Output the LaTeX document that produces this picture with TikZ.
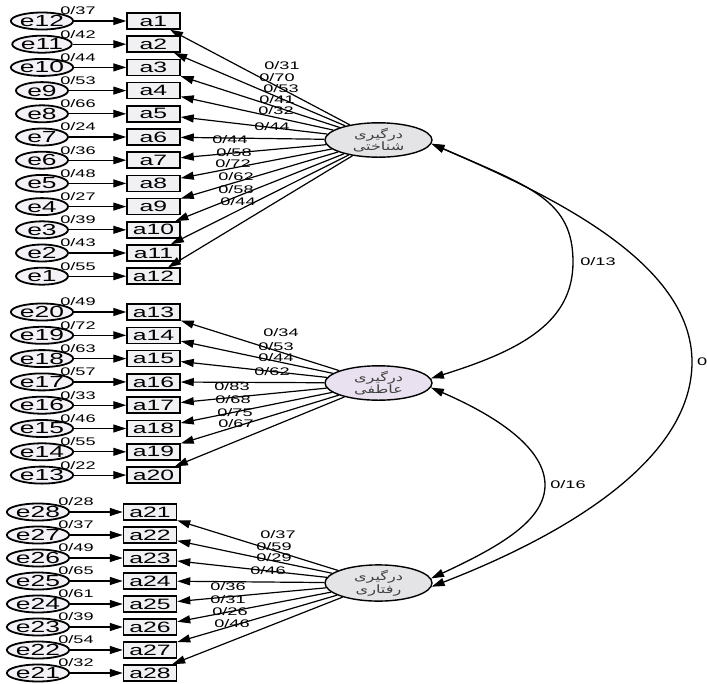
\documentclass[tikz,border=0pt]{standalone}
\usepackage{fontspec}
\setmainfont{Liberation Sans}
\newfontfamily\amos[FakeStretch=1.65]{Liberation Sans}
\newfontfamily\farsi[Script=Arabic,FakeStretch=1.4]{DejaVu Sans}
\TeXXeTstate=1
\usetikzlibrary{arrows.meta,shapes.geometric}

\definecolor{boxfill}{HTML}{F1F1F4}
\definecolor{errfill}{HTML}{F4F2F7}
\definecolor{latgray}{HTML}{E4E4E6}
\definecolor{latlav}{HTML}{E9E1F0}

\tikzset{
  obs/.style={draw, line width=1.5pt, fill=boxfill, minimum width=53pt,
    minimum height=16pt, inner sep=0pt, font=\amos\fontsize{15}{15}\selectfont},
  err/.style={draw, ellipse, line width=1.8pt, fill=errfill, minimum width=52pt,
    minimum height=17pt, inner sep=0pt, font=\amos\fontsize{16}{16}\selectfont},
  lat/.style={draw, ellipse, line width=1.4pt, minimum width=107pt,
    minimum height=30pt, inner sep=0pt, align=center, text=black!75,
    font=\farsi\fontsize{11.5}{12.5}\selectfont},
  lbl/.style={font=\amos\fontsize{11}{11}\selectfont, inner sep=0pt},
  link/.style={line width=1.2pt, -{Triangle[length=13pt,width=8pt]}},
  cov/.style={line width=1.3pt, {Triangle[length=13pt,width=8pt]}-{Triangle[length=13pt,width=8pt]}}
}

\begin{document}
\begin{tikzpicture}[x=1pt,y=-1pt]
\useasboundingbox[fill=white] (0,0) rectangle (707,683);

% latent factors
\node[lat, fill=latgray] (l1) at (378.5,140) {\beginR درگیری\endR\\\beginR شناختی\endR};
\node[lat, fill=latlav]  (l2) at (378.5,383) {\beginR درگیری\endR\\\beginR عاطفی\endR};
\node[lat, fill=latgray] (l3) at (378.5,583) {\beginR درگیری\endR\\\beginR رفتاری\endR};

% first factor: items a1--a12 with errors e12--e1
\foreach \i/\v in {1/37,2/42,3/44,4/53,5/66,6/24,7/36,8/48,9/27,10/39,11/43,12/55}{
  \pgfmathsetmacro\yy{21+23.2*(\i-1)}
  \pgfmathtruncatemacro\en{13-\i}
  \node[obs] (a\i) at (153.5,\yy) {a\i};
  \node[err] (e\en) at (42,\yy) {e\en};
  \draw[link] (e\en) -- (a\i);
  \node[lbl] at (78,\yy-10) {0/\v};
  \draw[link] (l1) -- (a\i);
}

% second factor: items a13--a20 with errors e20--e13
\foreach \i/\v in {13/49,14/72,15/63,16/57,17/33,18/46,19/55,20/22}{
  \pgfmathsetmacro\yy{312+23.3*(\i-13)}
  \pgfmathtruncatemacro\en{33-\i}
  \node[obs] (a\i) at (153.5,\yy) {a\i};
  \node[err] (e\en) at (42,\yy) {e\en};
  \draw[link] (e\en) -- (a\i);
  \node[lbl] at (78,\yy-10) {0/\v};
  \draw[link] (l2) -- (a\i);
}

% third factor: items a21--a28 with errors e28--e21
\foreach \i/\v in {21/28,22/37,23/49,24/65,25/61,26/39,27/54,28/32}{
  \pgfmathsetmacro\yy{512+23*(\i-21)}
  \pgfmathtruncatemacro\en{49-\i}
  \node[obs] (a\i) at (150,\yy) {a\i};
  \node[err] (e\en) at (38,\yy) {e\en};
  \draw[link] (e\en) -- (a\i);
  \node[lbl] at (76,\yy-10) {0/\v};
  \draw[link] (l3) -- (a\i);
}

% factor loadings
\foreach \x/\y/\v in {282/66/31,277/77.5/70,281/88.5/53,277/99.3/41,276/110.2/32,272/127/44,
  230/140/44,234/153/58,233/164/72,236/177/62,236/190/58,238/202/44,
  281/333/34,276/346.5/53,276/357.5/44,272/372/62,232/387/83,233/400/68,235/413/75,236/424/67,
  278/535/37,274/546.5/59,274/557.5/29,268/571/46,228/587/36,228/600/31,230/612/26,232/624/46}{
  \node[lbl] at (\x,\y) {0/\v};
}

% covariances between the factors
\draw[cov] (l1.-4) .. controls (531,187) and (573,200) .. (573,262)
  .. controls (573,322) and (522,350) .. (l2.5);
\draw[cov] (l2.-5) .. controls (501,418) and (545,450) .. (545,485)
  .. controls (545,520) and (501,546) .. (l3.5);
\draw[cov] (l1.-4) .. controls (550,195) and (692,262) .. (692,362)
  .. controls (692,462) and (560,537) .. (l3.-4);

\node[lbl] (c12) at (598,262) {0/13};
\node[lbl] (c23) at (568,485) {0/16};
\node[lbl, anchor=west] (c13) at (697,362) {0};
\end{tikzpicture}
\end{document}
